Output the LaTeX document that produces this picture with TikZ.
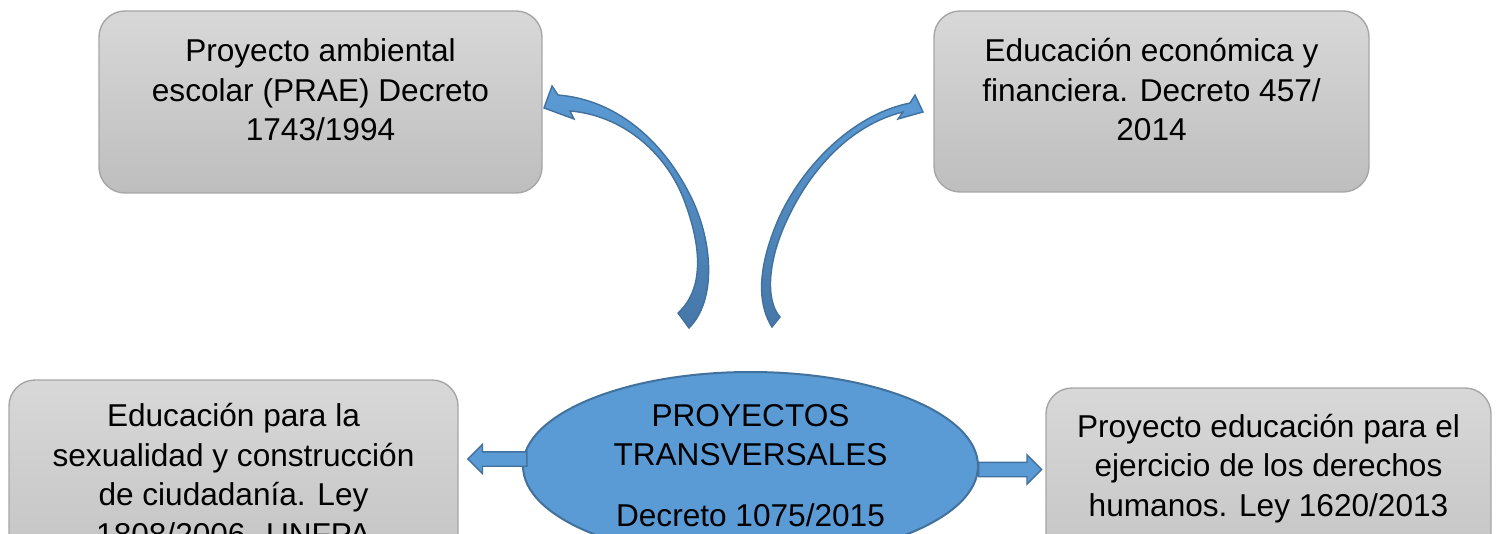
\documentclass[tikz,border=0pt]{standalone}
\usepackage{fontspec}
\setmainfont{Liberation Sans}
\usetikzlibrary{shapes.geometric,shapes.arrows}
\definecolor{boxtop}{HTML}{D8D8D8}
\definecolor{boxbot}{HTML}{BEBEBE}
\definecolor{boxline}{HTML}{A6A6A6}
\definecolor{hubfill}{HTML}{5B9BD5}
\definecolor{hubline}{HTML}{41719C}
\definecolor{arrowbot}{HTML}{4677A8}
\begin{document}
\begin{tikzpicture}[x=0.5pt, y=-0.5pt,
    box/.style = {draw = boxline, line width = 0.7pt, rounded corners = 13pt, top color = boxtop, bottom color = boxbot},
    txt/.style = {align = center, anchor = base, font = \fontsize{15.8}{19.7}\selectfont},
    flat/.style = {single arrow, draw = hubline, line width = 0.7pt, fill = hubfill, inner sep = 0pt, text height = 6.5pt, text depth = 0pt, single arrow head extend = 3.7pt},
    bent/.style = {draw = hubline, line width = 0.7pt, top color = hubfill, bottom color = arrowbot}]
    \useasboundingbox (0,0) rectangle (1497,534);
    \node[box, minimum width = 221.5pt, minimum height = 91pt] (prae) at (320.5,102) {};
    \node[box, minimum width = 217.5pt, minimum height = 90.5pt] (econ) at (1151.5,101.5) {};
    \node[box, minimum width = 224.5pt, minimum height = 120pt] (sex) at (233.5,500) {};
    \node[box, minimum width = 222.5pt, minimum height = 120pt] (ddhh) at (1268.5,508) {};
    \node[txt] (prae-t) at (320.5,140.5) {Proyecto ambiental\\escolar (PRAE) Decreto\\1743/1994};
    \node[txt] (econ-t) at (1151.5,140.5) {Educación económica y\\financiera. Decreto 457/\\2014};
    \node[txt] (sex-t) at (233.5,545) {Educación para la\\sexualidad y construcción\\de ciudadanía. Ley\\1808/2006. UNFPA};
    \node[txt] (ddhh-t) at (1268.5,516) {Proyecto educación para el\\ejercicio de los derechos\\humanos. Ley 1620/2013};
    \node[ellipse, draw = hubline, line width = 1pt, fill = hubfill, minimum width = 227.5pt, minimum height = 94pt, inner sep = 0pt,
        align = center, font = \fontsize{15.8}{19.2}\selectfont] (hub) at (750.5,466) {PROYECTOS\\TRANSVERSALES\\[11.7pt]Decreto 1075/2015};
    \node[flat, minimum height = 29.5pt, shape border rotate = 180] (to-sex) at (501,459) {};
    \node[flat, minimum height = 31.5pt] (to-ddhh) at (1006.5,469.5) {};
    \path[bent] (678,313) -- (689,328)
        .. controls (717,300) and (713,240) .. (690,195)
        .. controls (665,145) and (620,100) .. (558,95)
        -- (552,86) -- (544,108) -- (574,119) -- (570,111)
        .. controls (620,115) and (665,150) .. (684,200)
        .. controls (703,250) and (703,290) .. (678,313) -- cycle;
    \path[bent] (772,327) -- (780,317)
        .. controls (765,300) and (768,260) .. (787,220)
        .. controls (810,170) and (850,125) .. (903,112)
        -- (898,119) -- (923,112) -- (915,95) -- (910,103)
        .. controls (850,115) and (800,170) .. (778,220)
        .. controls (760,262) and (755,300) .. (772,327) -- cycle;
\end{tikzpicture}
\end{document}
